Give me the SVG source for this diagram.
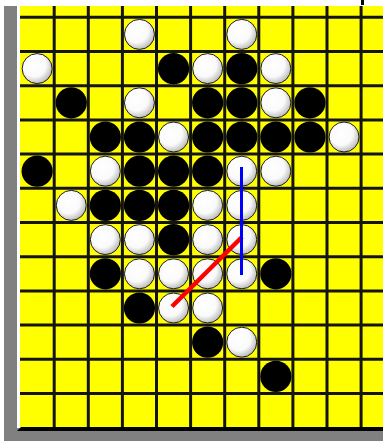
<svg xmlns="http://www.w3.org/2000/svg" width="383" height="441" viewBox="0 0 383 441">
<style>
.grid line{stroke:#141414;stroke-width:3}
.w{fill:url(#wg);stroke:#1a1a1a;stroke-width:1}
.b{fill:#000}
</style>
<defs>
<radialGradient id="wg" cx="0.4" cy="0.38" r="0.65">
<stop offset="0" stop-color="#fff"/>
<stop offset="0.6" stop-color="#fafafa"/>
<stop offset="1" stop-color="#b8b8b8"/>
</radialGradient>
<circle id="W" class="w" r="15"/>
<circle id="B" class="b" r="15.6"/>
</defs>
<rect width="383" height="441" fill="#fff"/>
<rect x="4" y="6" width="379" height="435" fill="#808080"/>
<rect x="17" y="6" width="366" height="422" fill="#fff"/>
<rect x="20" y="6" width="363" height="421" fill="#ffff00"/>
<g class="grid">
<line x1="54.2" y1="6" x2="54.2" y2="427"/>
<line x1="88.3" y1="6" x2="88.3" y2="427"/>
<line x1="122.4" y1="6" x2="122.4" y2="427"/>
<line x1="156.5" y1="6" x2="156.5" y2="427"/>
<line x1="190.6" y1="6" x2="190.6" y2="427"/>
<line x1="224.7" y1="6" x2="224.7" y2="427"/>
<line x1="258.8" y1="6" x2="258.8" y2="427"/>
<line x1="292.9" y1="6" x2="292.9" y2="427"/>
<line x1="327" y1="6" x2="327" y2="427"/>
<line x1="361.1" y1="6" x2="361.1" y2="427"/>
<line x1="20" y1="17.3" x2="383" y2="17.3"/>
<line x1="20" y1="51.5" x2="383" y2="51.5"/>
<line x1="20" y1="85.7" x2="383" y2="85.7"/>
<line x1="20" y1="119.9" x2="383" y2="119.9"/>
<line x1="20" y1="154.1" x2="383" y2="154.1"/>
<line x1="20" y1="188.3" x2="383" y2="188.3"/>
<line x1="20" y1="222.5" x2="383" y2="222.5"/>
<line x1="20" y1="256.7" x2="383" y2="256.7"/>
<line x1="20" y1="290.9" x2="383" y2="290.9"/>
<line x1="20" y1="325.1" x2="383" y2="325.1"/>
<line x1="20" y1="359.3" x2="383" y2="359.3"/>
<line x1="20" y1="393.5" x2="383" y2="393.5"/>
</g>
<polygon points="17,431 21,427 383,427 383,431" fill="#000"/>
<rect x="361" y="0" width="3" height="5" fill="#000"/>
<g id="white-stones">
<use href="#W" x="139.45" y="34.4"/>
<use href="#W" x="241.75" y="34.4"/>
<use href="#W" x="37.15" y="68.6"/>
<use href="#W" x="207.65" y="68.6"/>
<use href="#W" x="275.85" y="68.6"/>
<use href="#W" x="139.45" y="102.8"/>
<use href="#W" x="275.85" y="102.8"/>
<use href="#W" x="173.55" y="137"/>
<use href="#W" x="344.05" y="137"/>
<use href="#W" x="105.35" y="171.2"/>
<use href="#W" x="241.75" y="171.2"/>
<use href="#W" x="275.85" y="171.2"/>
<use href="#W" x="71.25" y="205.4"/>
<use href="#W" x="207.65" y="205.4"/>
<use href="#W" x="241.75" y="205.4"/>
<use href="#W" x="105.35" y="239.6"/>
<use href="#W" x="139.45" y="239.6"/>
<use href="#W" x="207.65" y="239.6"/>
<use href="#W" x="241.75" y="239.6"/>
<use href="#W" x="139.45" y="273.8"/>
<use href="#W" x="173.55" y="273.8"/>
<use href="#W" x="207.65" y="273.8"/>
<use href="#W" x="241.75" y="273.8"/>
<use href="#W" x="173.55" y="308"/>
<use href="#W" x="207.65" y="308"/>
<use href="#W" x="241.75" y="342.2"/>
</g>
<g id="black-stones">
<use href="#B" x="173.55" y="68.6"/>
<use href="#B" x="241.75" y="68.6"/>
<use href="#B" x="71.25" y="102.8"/>
<use href="#B" x="207.65" y="102.8"/>
<use href="#B" x="241.75" y="102.8"/>
<use href="#B" x="309.95" y="102.8"/>
<use href="#B" x="105.35" y="137"/>
<use href="#B" x="139.45" y="137"/>
<use href="#B" x="207.65" y="137"/>
<use href="#B" x="241.75" y="137"/>
<use href="#B" x="275.85" y="137"/>
<use href="#B" x="309.95" y="137"/>
<use href="#B" x="37.15" y="171.2"/>
<use href="#B" x="139.45" y="171.2"/>
<use href="#B" x="173.55" y="171.2"/>
<use href="#B" x="207.65" y="171.2"/>
<use href="#B" x="105.35" y="205.4"/>
<use href="#B" x="139.45" y="205.4"/>
<use href="#B" x="173.55" y="205.4"/>
<use href="#B" x="173.55" y="239.6"/>
<use href="#B" x="105.35" y="273.8"/>
<use href="#B" x="275.85" y="273.8"/>
<use href="#B" x="139.45" y="308"/>
<use href="#B" x="207.65" y="342.2"/>
<use href="#B" x="275.85" y="376.4"/>
</g>
<g id="connectors">
<line x1="242" y1="237" x2="172" y2="306.5" stroke="#ff0000" stroke-width="4.5"/>
<line x1="241.5" y1="167" x2="241.5" y2="275" stroke="#0000ff" stroke-width="3"/>
</g>
</svg>
